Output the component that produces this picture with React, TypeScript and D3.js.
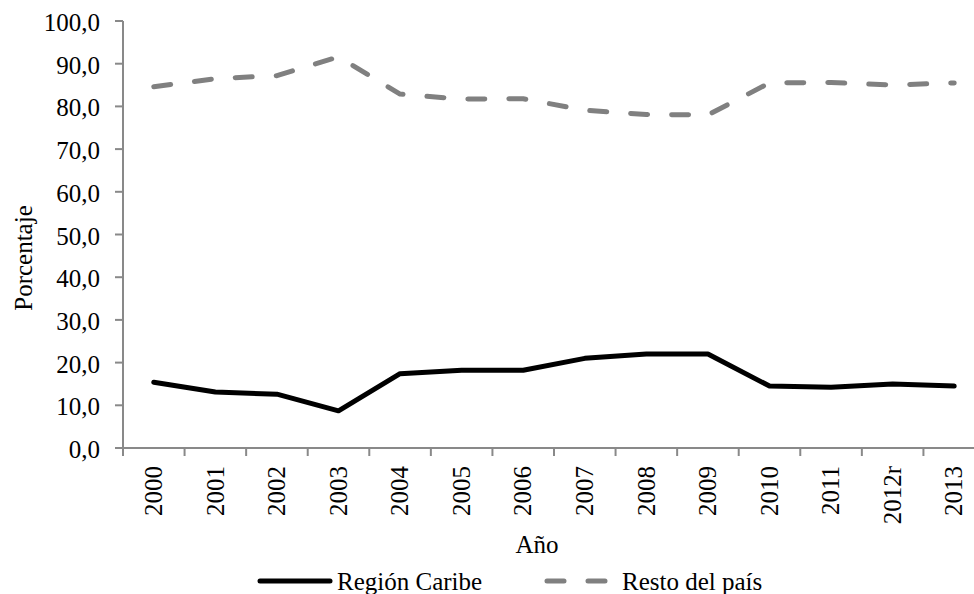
import React from "react";
import * as d3 from "d3";

const categories = ["2000","2001","2002","2003","2004","2005","2006","2007","2008","2009","2010","2011","2012r","2013"];
const caribe = [15.4, 13.1, 12.6, 8.7, 17.4, 18.2, 18.2, 21.0, 22.0, 22.0, 14.5, 14.2, 15.0, 14.5];
const resto = [84.6, 86.5, 87.2, 91.6, 82.9, 81.7, 81.8, 79.1, 78.1, 78.0, 85.5, 85.6, 85.0, 85.5];
const yTicks = [0, 10, 20, 30, 40, 50, 60, 70, 80, 90, 100];
const seriesNames = ["Región Caribe", "Resto del país"];

const W = 974, H = 594;
const FONT = "'Liberation Serif', 'Times New Roman', serif";
const FS = 25;
const AXIS = "#898989";

export default function App() {
  const x = d3.scaleBand<string>().domain(categories).range([123, 985]);
  const y = d3.scaleLinear().domain([0, 100]).range([448, 21]);
  const line = d3.line<number>()
    .x((_, i) => (x(categories[i]) as number) + x.bandwidth() / 2)
    .y((d) => y(d));
  const fmt = (v: number) => v.toFixed(1).replace(".", ",");
  const bounds = categories.map((c) => x(c) as number).concat([x.range()[1]]);

  return (
    <div style={{ position: "absolute", left: 0, top: 0 }}>
      <svg width={W} height={H} style={{ display: "block", background: "#fff" }} fontFamily={FONT}>
        {/* y axis */}
        <line x1={123} x2={123} y1={y(100)} y2={y(0)} stroke={AXIS} strokeWidth={2} />
        {yTicks.map((t) => (
          <g key={t}>
            <line x1={115} x2={123} y1={y(t)} y2={y(t)} stroke={AXIS} strokeWidth={2} />
            <text x={100} y={y(t)} dy="0.4em" textAnchor="end" fontSize={FS} fill="#000">{fmt(t)}</text>
          </g>
        ))}
        {/* x axis */}
        <line x1={122} x2={x.range()[1]} y1={y(0)} y2={y(0)} stroke={AXIS} strokeWidth={2} />
        {bounds.map((b, i) => (
          <line key={i} x1={b} x2={b} y1={y(0)} y2={y(0) + 8} stroke={AXIS} strokeWidth={2} />
        ))}
        {categories.map((c) => {
          const cx = (x(c) as number) + x.bandwidth() / 2;
          return (
            <text key={c} transform={`translate(${cx},466) rotate(-90)`} dy="0.33em" textAnchor="end" fontSize={FS} fill="#000">{c}</text>
          );
        })}
        <text x={537} y={553} textAnchor="middle" fontSize={FS} fill="#000">Año</text>
        <text transform="translate(32,258) rotate(-90)" textAnchor="middle" fontSize={FS} fill="#000">Porcentaje</text>
        {/* series */}
        <path d={line(resto) as string} fill="none" stroke="#808080" strokeWidth={5} strokeDasharray="17 24" strokeLinecap="round" strokeLinejoin="round" />
        <path d={line(caribe) as string} fill="none" stroke="#000" strokeWidth={5} strokeLinecap="round" strokeLinejoin="round" />
        {/* legend */}
        <line x1={260} x2={330} y1={581} y2={581} stroke="#000" strokeWidth={5} strokeLinecap="round" />
        <text x={337} y={590} fontSize={FS} fill="#000">{seriesNames[0]}</text>
        <line x1={547} x2={610} y1={581} y2={581} stroke="#808080" strokeWidth={5} strokeDasharray="17 24" strokeLinecap="round" />
        <text x={622} y={590} fontSize={FS} fill="#000">{seriesNames[1]}</text>
      </svg>
    </div>
  );
}
